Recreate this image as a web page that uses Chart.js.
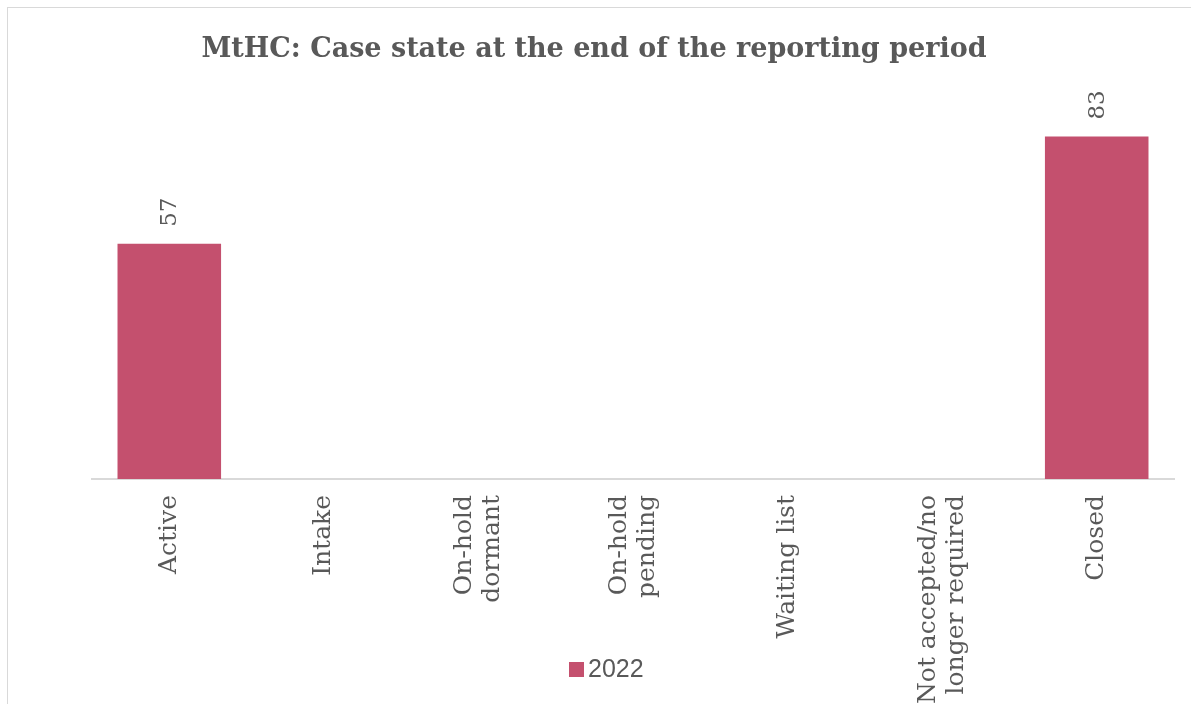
<!DOCTYPE html>
<html>
<head>
<meta charset="utf-8">
<script src="https://cdn.jsdelivr.net/npm/chart.js@4"></script>
<style>
  html, body { margin: 0; padding: 0; background: #fff; overflow: hidden; }
  #frame {
    position: absolute; left: 7px; top: 7px; width: 1200px; height: 720px;
    border: 1.5px solid #d9d9d9; box-sizing: border-box;
  }
  #wrap { position: absolute; left: 0; top: 0; width: 1191px; height: 704px; }
</style>
</head>
<body>
<div id="frame"></div>
<div id="wrap"><canvas id="caseChart"></canvas></div>
<script>
// Chart data
const categories = [
    'Active',
    'Intake',
    ['On-hold', 'dormant'],
    ['On-hold', 'pending'],
    'Waiting list',
    ['Not accepted/no', 'longer required'],
    'Closed'
];
const seriesName = '2022';
const caseCounts = [57, 0, 0, 0, 0, 0, 83];

const barColor = '#C4506E';
const textColor = '#595959';
const serifFont = "'DejaVu Serif', serif";

// value labels above the bars, rotated like in excel
const valueLabels = {
    id: 'valueLabels',
    afterDatasetsDraw(chart) {
        const ctx = chart.ctx;
        const meta = chart.getDatasetMeta(0);
        ctx.save();
        ctx.fillStyle = textColor;
        ctx.font = '23px ' + serifFont;
        ctx.textAlign = 'left';
        ctx.textBaseline = 'middle';
        meta.data.forEach((bar, i) => {
            const v = chart.data.datasets[0].data[i];
            if (!v) return;
            ctx.save();
            ctx.translate(bar.x + 1, bar.y - 17);
            ctx.rotate(-Math.PI / 2);
            ctx.fillText(v, 0, 0);
            ctx.restore();
        });
        ctx.restore();
    }
};

// category labels: rotated, multi-line ones centred on the tick
const categoryLabels = {
    id: 'categoryLabels',
    afterDraw(chart) {
        const ctx = chart.ctx;
        const xScale = chart.scales.x;
        const lineHeight = 28;
        ctx.save();
        ctx.fillStyle = textColor;
        ctx.font = '25px ' + serifFont;
        ctx.textAlign = 'right';
        ctx.textBaseline = 'middle';
        chart.data.labels.forEach((label, i) => {
            const lines = Array.isArray(label) ? label : [label];
            const x = xScale.getPixelForTick(i);
            lines.forEach((line, j) => {
                const off = (j - (lines.length - 1) / 2) * lineHeight;
                ctx.save();
                ctx.translate(x + off, xScale.top + 16);
                ctx.rotate(-Math.PI / 2);
                ctx.fillText(line, 0, 0);
                ctx.restore();
            });
        });
        ctx.restore();
    }
};

// legend sits on top of the axis labels, so draw it by hand
const bottomLegend = {
    id: 'bottomLegend',
    afterDraw(chart) {
        const ctx = chart.ctx;
        const ds = chart.data.datasets[0];
        ctx.save();
        ctx.fillStyle = ds.backgroundColor;
        ctx.fillRect(569, 662, 15, 15);
        ctx.fillStyle = textColor;
        ctx.font = "25px 'Liberation Sans', Arial, sans-serif";
        ctx.textAlign = 'left';
        ctx.textBaseline = 'middle';
        ctx.fillText(ds.label, 588, 670);
        ctx.restore();
    }
};

const ctx = document.getElementById('caseChart').getContext('2d');

const caseChart = new Chart(ctx, {
    type: 'bar',
    data: {
        labels: categories,
        datasets: [{
            label: seriesName,
            data: caseCounts,
            backgroundColor: barColor,
            categoryPercentage: 1,
            barPercentage: 0.67
        }]
    },
    options: {
        responsive: true,
        maintainAspectRatio: false,
        animation: false,
        layout: {
            padding: { left: 14, right: 17, top: 0, bottom: 0 }
        },
        scales: {
            x: {
                grid: { display: false, drawTicks: false },
                border: { color: '#d9d9d9', width: 2 },
                ticks: { display: false },
                afterFit(scale) {
                    scale.height = 225;
                }
            },
            y: {
                min: 0,
                max: 100,
                grid: { display: false, drawTicks: false },
                border: { display: false },
                ticks: { display: false },
                afterFit(scale) {
                    scale.width = 78;
                }
            }
        },
        plugins: {
            legend: { display: false },
            tooltip: { enabled: false },
            title: {
                display: true,
                text: 'MtHC: Case state at the end of the reporting period',
                color: textColor,
                font: { family: serifFont, size: 27, weight: 'bold' },
                padding: { top: 34, bottom: 0 }
            }
        }
    },
    plugins: [valueLabels, categoryLabels, bottomLegend]
});
</script>
</body>
</html>
